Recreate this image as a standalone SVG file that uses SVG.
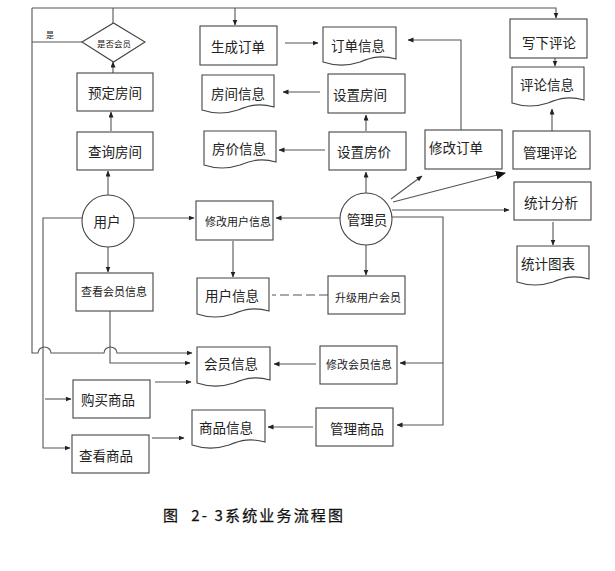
<svg xmlns="http://www.w3.org/2000/svg" width="615" height="571" viewBox="0 0 615 571">
<defs>
<marker id="a" markerUnits="userSpaceOnUse" markerWidth="6" markerHeight="6" refX="5.5" refY="2.5" orient="auto"><path d="M0,0 L6,2.5 L0,5 z" fill="#222"/></marker>
<marker id="b" markerUnits="userSpaceOnUse" markerWidth="10" markerHeight="10" refX="9" refY="4.5" orient="auto"><path d="M0,0 L10,4.5 L0,9 z" fill="#111"/></marker>
<style>
.n{fill:#fff;stroke:#444;stroke-width:1.1}
.c{fill:none;stroke:#555;stroke-width:1.1}
.ar{marker-end:url(#a)}
text{font-family:"Noto Sans CJK SC","Liberation Sans",sans-serif;fill:#222;dominant-baseline:central;text-anchor:middle}
.t{font-size:13.5px}
.s{font-size:11px}
</style>
</defs>
<rect width="615" height="571" fill="#fff"/>
<g id="connectors">
<path class="c ar" d="M32,8 H556 V18"/>
<path class="c ar" d="M32,8 V353 H38 a6.5,6 0 0 1 13,0 H104 a6.5,6 0 0 1 13,0 H192"/>
<path class="c ar" d="M235,8 V25"/>
<path class="c" d="M113,8 V23"/>
<path class="c" d="M82,42 H32"/>
<text x="50" y="34" style="font-size:8px">是</text>
<path class="c ar" d="M113,73 V62"/>
<path class="c ar" d="M111,131 V112"/>
<path class="c ar" d="M108,195 V171"/>
<path class="c ar" d="M82,218 H43 V448 H70"/>
<path class="c ar" d="M45,399 H71"/>
<path class="c ar" d="M134,218 H194"/>
<path class="c ar" d="M108,247 V272"/>
<path class="c ar" d="M110,311 V363 H190"/>
<path class="c ar" d="M155,382 H191"/>
<path class="c ar" d="M152,438 H184"/>
<path class="c ar" d="M316,364 H274"/>
<path class="c ar" d="M313,427 H268"/>
<path class="c ar" d="M392,217 H443 V425 H397"/>
<path class="c ar" d="M443,363 H400"/>
<path class="c ar" d="M340,218 H276"/>
<path class="c ar" d="M366,193 V172"/>
<path class="c ar" d="M366,131 V115"/>
<path class="c ar" d="M366,245 V275"/>
<path class="c ar" d="M233,241 V277"/>
<path class="c" d="M328,295 H272" stroke-dasharray="9,4"/>
<path class="c ar" d="M325,150 H279"/>
<path class="c ar" d="M320,92 H283"/>
<path class="c ar" d="M285,43 H318"/>
<path class="c ar" d="M461,130 V40 H408"/>
<path class="c ar" d="M555,58 V66"/>
<path class="c ar" d="M552,131 V109"/>
<path class="c ar" d="M553,222 V245"/>
<path class="c ar" d="M391,199 L422,176"/>
<path class="c" d="M393,202 L505,173" marker-end="url(#b)"/>
<path class="c ar" d="M392,210 H509"/>
</g>
<g id="n_shifou"><path class="n" d="M82,42 L113.5,23 L145,42 L113.5,62 z"/><text x="114" y="43" style="font-size:8.5px">是否会员</text></g>
<g id="n_yuding"><rect class="n" x="77" y="73" width="76" height="38"/><text class="t" x="115" y="92">预定房间</text></g>
<g id="n_chaxun"><rect class="n" x="77" y="132" width="76" height="38"/><text class="t" x="115" y="151">查询房间</text></g>
<g id="n_yonghu"><circle class="n" cx="108" cy="221" r="26"/><text class="t" x="107" y="221">用户</text></g>
<g id="n_ckhyxx"><rect class="n" x="76" y="273" width="77" height="38"/><text class="s" x="114" y="291">查看会员信息</text></g>
<g id="n_goumai"><rect class="n" x="73" y="380" width="77" height="38"/><text class="t" x="108" y="399">购买商品</text></g>
<g id="n_chakan"><rect class="n" x="72" y="435" width="77" height="38"/><text class="t" x="106" y="455">查看商品</text></g>
<g id="n_shengcheng"><rect class="n" x="200" y="26" width="77" height="39"/><text class="t" x="238" y="46">生成订单</text></g>
<g id="n_dingdanxx"><path class="n" d="M323,27 H396 V59 C382,55 372,57 360,62 C348,66 335,66 323,62 z"/><text class="t" x="358" y="45">订单信息</text></g>
<g id="n_fangjianxx"><path class="n" d="M202,75 H274 V107 C260,103 250,105 238,110 C226,114 214,114 202,110 z"/><text class="t" x="238" y="93">房间信息</text></g>
<g id="n_shezhifj"><rect class="n" x="328" y="74" width="77" height="39"/><text class="t" x="360" y="94">设置房间</text></g>
<g id="n_fangjiaxx"><path class="n" d="M204,131 H276 V162 C262,158 252,160 240,165 C228,169 216,169 204,165 z"/><text class="t" x="239" y="148">房价信息</text></g>
<g id="n_shezhifjia"><rect class="n" x="329" y="132" width="77" height="38"/><text class="t" x="364" y="151">设置房价</text></g>
<g id="n_xiugaidd"><rect class="n" x="425" y="130" width="77" height="39"/><text class="t" x="456" y="147">修改订单</text></g>
<g id="n_xiexia"><rect class="n" x="510" y="19" width="77" height="39"/><text class="t" x="549" y="42">写下评论</text></g>
<g id="n_pinglunxx"><path class="n" d="M512,67 H584 V100 C570,96 560,98 548,103 C536,107 524,107 512,103 z"/><text class="t" x="547" y="84">评论信息</text></g>
<g id="n_guanlipl"><rect class="n" x="513" y="131" width="77" height="38"/><text class="t" x="550" y="152">管理评论</text></g>
<g id="n_tongji"><rect class="n" x="514" y="182" width="77" height="38"/><text class="t" x="551" y="202">统计分析</text></g>
<g id="n_tongjitb"><path class="n" d="M517,246 H589 V279 C575,275 565,277 553,282 C541,286 529,286 517,282 z"/><text class="t" x="548" y="263">统计图表</text></g>
<g id="n_guanliyuan"><circle class="n" cx="366" cy="219" r="26"/><text class="t" x="367" y="219">管理员</text></g>
<g id="n_xgyhxx"><rect class="n" x="196" y="201" width="77" height="39"/><text class="s" x="238" y="221">修改用户信息</text></g>
<g id="n_yonghuxx"><path class="n" d="M197,278 H269 V311 C255,307 245,309 233,314 C221,318 209,318 197,314 z"/><text class="t" x="232" y="295">用户信息</text></g>
<g id="n_shengji"><rect class="n" x="328" y="276" width="77" height="38"/><text class="s" x="368" y="297">升级用户会员</text></g>
<g id="n_huiyuanxx"><path class="n" d="M197,347 H270 V380 C256,376 246,378 234,383 C222,387 209,387 197,383 z"/><text class="t" x="231" y="363">会员信息</text></g>
<g id="n_xghyxx"><rect class="n" x="320" y="346" width="77" height="38"/><text class="s" x="359" y="364">修改会员信息</text></g>
<g id="n_shangpinxx"><path class="n" d="M192,410 H265 V442 C251,438 241,440 229,445 C217,449 204,449 192,445 z"/><text class="t" x="226" y="427">商品信息</text></g>
<g id="n_guanlisp"><rect class="n" x="316" y="408" width="77" height="38"/><text class="t" x="357" y="428">管理商品</text></g>
<text x="253" y="514" style="font-size:15px;fill:#111;stroke:#111;stroke-width:0.25" textLength="180" lengthAdjust="spacing" xml:space="preserve">图  2- 3系统业务流程图</text>
</svg>
